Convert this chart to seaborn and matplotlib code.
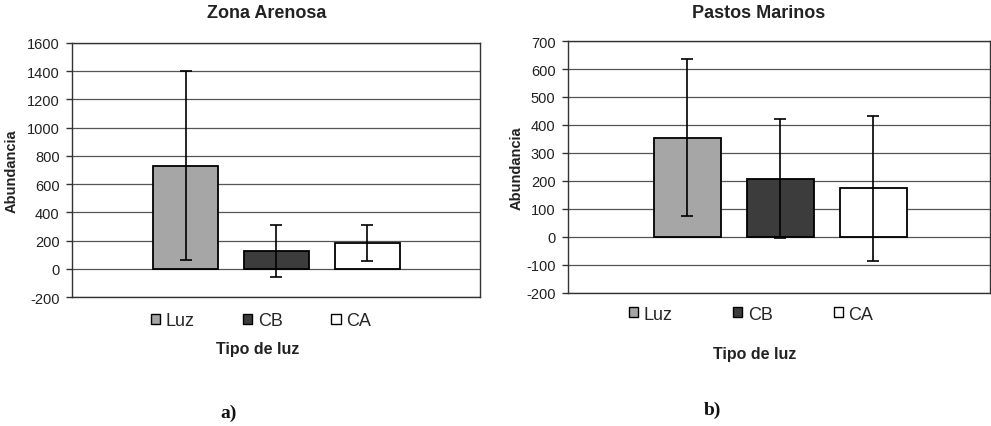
import matplotlib
matplotlib.use("Agg")
import matplotlib.pyplot as plt
from matplotlib.patches import Patch
import seaborn as sns
import pandas as pd

# ---- data ----
series = ["Luz", "CB", "CA"]
colors = ["#a6a6a6", "#3c3c3c", "#ffffff"]

arenosa_mean = [730, 127, 183]
arenosa_err = [670, 182, 130]
arenosa_ticks = [-200, 0, 200, 400, 600, 800, 1000, 1200, 1400, 1600]

pastos_mean = [354, 208, 174]
pastos_err = [280, 212, 258]
pastos_ticks = [-200, -100, 0, 100, 200, 300, 400, 500, 600, 700]

titles = ["Zona Arenosa", "Pastos Marinos"]
ylabel = "Abundancia"
xlabel = "Tipo de luz"
panel_tags = ["a)", "b)"]

sns.set_theme(style="white")
plt.rcParams["font.family"] = ["Liberation Sans", "DejaVu Sans"]

W, H = 991, 427
fig = plt.figure(figsize=(W / 100, H / 100), dpi=100)

def fx(px):
    return px / W

def fy(py):
    return 1 - py / H

panels = [
    dict(rect=[72, 44, 480, 298], mean=arenosa_mean, err=arenosa_err, ticks=arenosa_ticks,
         xlim=(-1.253, 3.243), title_xy=(267, 14), ylab_x=12,
         leg_xy=(261, 322), colsp=2.7, xlab_xy=(258, 350), tag_xy=(229, 413)),
    dict(rect=[568, 42, 990, 294], mean=pastos_mean, err=pastos_err, ticks=pastos_ticks,
         xlim=(-1.285, 3.253), title_xy=(759, 14), ylab_x=517,
         leg_xy=(751, 315), colsp=3.4, xlab_xy=(755, 355), tag_xy=(712, 410)),
]

for i, p in enumerate(panels):
    l, t, r, b = p["rect"]
    ax = fig.add_axes([fx(l), fy(b), (r - l) / W, (b - t) / H])
    df = pd.DataFrame({"serie": series, "valor": p["mean"]})
    sns.barplot(data=df, x="serie", y="valor", hue="serie", order=series,
                hue_order=series, palette=colors, width=0.72, edgecolor="black",
                linewidth=1.3, legend=False, errorbar=None, ax=ax, zorder=3)
    centers = [bar.get_x() + bar.get_width() / 2 for bar in ax.patches]
    ax.errorbar(centers, p["mean"], yerr=p["err"], fmt="none", ecolor="black",
                elinewidth=1.2, capsize=4, capthick=1.2, zorder=4)
    ax.set_xlim(*p["xlim"])
    ax.set_ylim(p["ticks"][0], p["ticks"][-1])
    ax.set_yticks(p["ticks"])
    ax.set_yticklabels([str(v) for v in p["ticks"]], fontsize=10.5, color="#222222")
    ax.set_xticks([])
    ax.set_xlabel("")
    ax.set_ylabel("")
    ax.yaxis.grid(True, color="#555555", linewidth=0.9, zorder=0)
    ax.set_axisbelow(True)
    for s in ax.spines.values():
        s.set_visible(True)
        s.set_color("#333333")
        s.set_linewidth(1.0)
    ax.tick_params(axis="y", which="major", left=True, length=4, width=1.0,
                   pad=5, color="#333333")

    fig.text(fx(p["title_xy"][0]), fy(p["title_xy"][1]), titles[i], ha="center",
             va="center", fontsize=13, fontweight="bold", color="#222222")
    fig.text(fx(p["ylab_x"]), fy((t + b) / 2), ylabel, rotation=90, ha="center",
             va="center", fontsize=10.5, fontweight="bold", color="#222222")
    handles = [Patch(facecolor=c, edgecolor="black", linewidth=1.0) for c in colors]
    fig.legend(handles, series, loc="center",
               bbox_to_anchor=(fx(p["leg_xy"][0]), fy(p["leg_xy"][1])),
               ncol=3, frameon=False, fontsize=13, handlelength=0.5,
               handleheight=0.5, handletextpad=0.3, columnspacing=p["colsp"])
    fig.text(fx(p["xlab_xy"][0]), fy(p["xlab_xy"][1]), xlabel, ha="center",
             va="center", fontsize=11.5, fontweight="bold", color="#222222")
    fig.text(fx(p["tag_xy"][0]), fy(p["tag_xy"][1]), panel_tags[i], ha="center",
             va="center", fontsize=14, fontweight="bold",
             family=["Liberation Serif", "DejaVu Serif"], color="#111111")

fig.savefig("out.png", dpi=100)
